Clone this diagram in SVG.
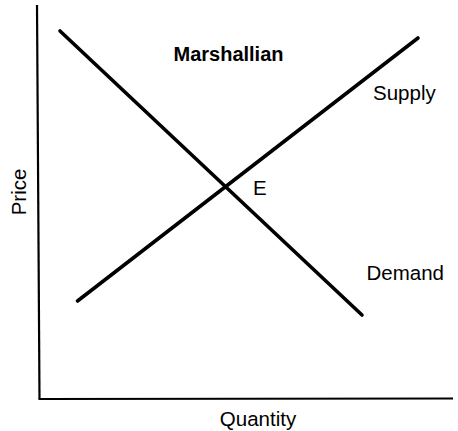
<svg xmlns="http://www.w3.org/2000/svg" width="458" height="431" viewBox="0 0 458 431">
<style>
  text { font-family: "Liberation Sans", Arial, sans-serif; font-size: 20.5px; fill: #000; }
  .title { font-weight: bold; font-size: 20px; }
  .axis { stroke: #000; stroke-width: 2.2; fill: none; }
  .curve { stroke: #000; stroke-width: 3.6; stroke-linecap: round; fill: none; }
</style>
<rect width="458" height="431" fill="#fff"/>
<g id="axes">
  <line class="axis" x1="37" y1="5" x2="39.5" y2="399"/>
  <line class="axis" x1="38.5" y1="399" x2="453" y2="398.5"/>
  <text transform="translate(25.5,192) rotate(-90)" text-anchor="middle">Price</text>
  <text x="258" y="425.5" text-anchor="middle">Quantity</text>
</g>
<g id="connectors">
  <line id="demand-line" class="curve" x1="60" y1="31" x2="362" y2="315"/>
  <line id="supply-line" class="curve" x1="77.5" y1="301" x2="418" y2="38"/>
</g>
<g id="title"><text class="title" x="228.5" y="60.5" text-anchor="middle">Marshallian</text></g>
<g id="supply"><text x="373" y="99.5">Supply</text></g>
<g id="demand"><text x="366.5" y="280">Demand</text></g>
<g id="equilibrium"><text x="253" y="195">E</text></g>
</svg>
